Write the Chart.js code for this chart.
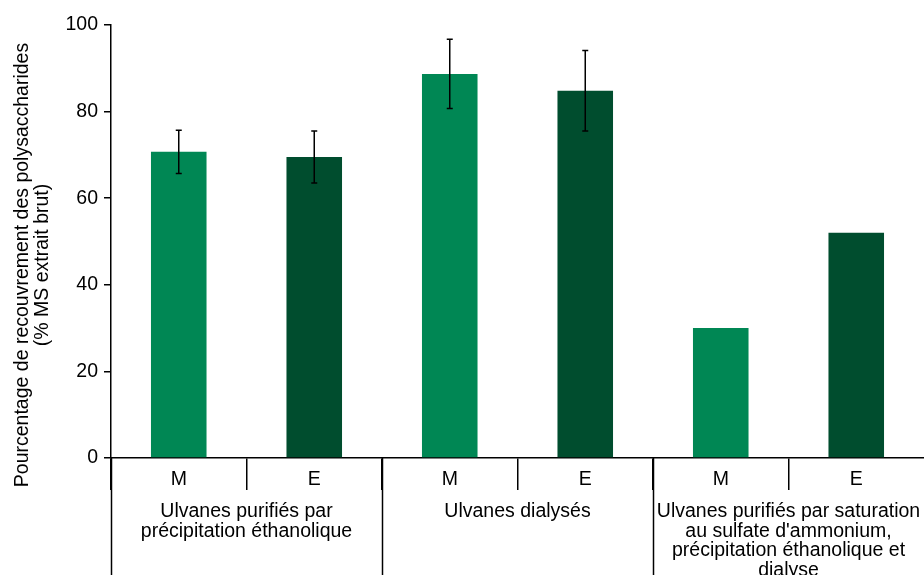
<!DOCTYPE html>
<html>
<head>
<meta charset="utf-8">
<script src="https://cdn.jsdelivr.net/npm/chart.js@4"></script>
<style>
  html, body { margin: 0; padding: 0; background: #fff; }
  #wrap { width: 924px; height: 575px; position: relative; }
</style>
</head>
<body>
<div id="wrap"><canvas id="c"></canvas></div>
<script>
// ---- data ----
const categories = ["M", "E", "M", "E", "M", "E"];
const recoveryValues = [70.7, 69.5, 88.7, 84.8, 30.0, 52.0];
const errorValues = [5.0, 6.0, 8.0, 9.3, 0, 0];
const groupLabels = [
  ["Ulvanes purifiés par", "précipitation éthanolique"],
  ["Ulvanes dialysés"],
  ["Ulvanes purifiés par saturation", "au sulfate d'ammonium,", "précipitation éthanolique et", "dialyse"]
];
const yTicks = [0, 20, 40, 60, 80, 100];
const yTitleLines = ["Pourcentage de recouvrement des polysaccharides", "(% MS extrait brut)"];

const LIGHT = "#008754";
const DARK = "#004D2E";
const barColors = categories.map(c => c === "M" ? LIGHT : DARK);
const FONT = "'Liberation Sans', Arial, Helvetica, sans-serif";
const FS = 19.5;

const errorBarPlugin = {
  id: "errorBars",
  afterDatasetsDraw(chart) {
    const meta = chart.getDatasetMeta(0);
    const ys = chart.scales.y;
    const ctx = chart.ctx;
    ctx.save();
    ctx.strokeStyle = "#000";
    ctx.lineWidth = 1.5;
    meta.data.forEach((bar, i) => {
      const e = errorValues[i];
      if (!e) return;
      const v = recoveryValues[i];
      const yt = ys.getPixelForValue(v + e);
      const yb = ys.getPixelForValue(v - e);
      ctx.beginPath();
      ctx.moveTo(bar.x, yt); ctx.lineTo(bar.x, yb);
      ctx.moveTo(bar.x - 3, yt); ctx.lineTo(bar.x + 3, yt);
      ctx.moveTo(bar.x - 3, yb); ctx.lineTo(bar.x + 3, yb);
      ctx.stroke();
    });
    ctx.restore();
  }
};

const groupAxisPlugin = {
  id: "groupAxis",
  afterDraw(chart) {
    const xs = chart.scales.x;
    const ctx = chart.ctx;
    const w = (xs.right - xs.left) / categories.length;
    const top = chart.chartArea.bottom;
    const H = chart.height;
    ctx.save();
    ctx.strokeStyle = "#000";
    ctx.lineWidth = 1.5;
    ctx.fillStyle = "#000";
    ctx.font = FS + "px " + FONT;
    ctx.textAlign = "center";
    ctx.textBaseline = "alphabetic";
    groupLabels.forEach((lines, g) => {
      const left = xs.getPixelForValue(2 * g) - w / 2;
      const right = xs.getPixelForValue(2 * g + 1) + w / 2;
      ctx.beginPath();
      ctx.moveTo(Math.round(left) + 0.5, top);
      ctx.lineTo(Math.round(left) + 0.5, H);
      ctx.stroke();
      const cx = (left + right) / 2;
      lines.forEach((t, k) => ctx.fillText(t, cx, top + 59 + k * 19.5));
    });
    // y title
    ctx.rotate(-Math.PI / 2);
    ctx.textBaseline = "middle";
    yTitleLines.forEach((t, k) => ctx.fillText(t, -265, 23 + k * 20));
    ctx.restore();
  }
};

new Chart(document.getElementById("c"), {
  type: "bar",
  data: {
    labels: categories,
    datasets: [{
      data: recoveryValues,
      backgroundColor: barColors,
      borderWidth: 0,
      barPercentage: 0.41,
      categoryPercentage: 1.0
    }]
  },
  options: {
    responsive: true,
    maintainAspectRatio: false,
    animation: false,
    layout: { padding: { top: 25, right: 0, left: 0, bottom: 0 } },
    plugins: { legend: { display: false }, tooltip: { enabled: false } },
    scales: {
      x: {
        offset: true,
        grid: {
          display: true, drawOnChartArea: false, offset: true, tickLength: 32, lineWidth: 1.5,
          color: (c) => (c.tick ? "#000" : "rgba(0,0,0,0)")
        },
        border: { display: true, color: "#000", width: 1.5 },
        ticks: { color: "#000", font: { family: FONT, size: FS }, padding: -22, maxRotation: 0 },
        afterFit(s) { s.height = 117; }
      },
      y: {
        min: 0, max: 100,
        afterBuildTicks(s) { s.ticks = yTicks.map(v => ({ value: v })); },
        grid: { display: true, drawOnChartArea: false, tickLength: 7, color: "#000", lineWidth: 1.5 },
        border: { display: true, color: "#000", width: 1.5 },
        ticks: { color: "#000", font: { family: FONT, size: FS }, padding: 6 },
        afterFit(s) { s.width = 111; }
      }
    }
  },
  plugins: [errorBarPlugin, groupAxisPlugin]
});
</script>
</body>
</html>
